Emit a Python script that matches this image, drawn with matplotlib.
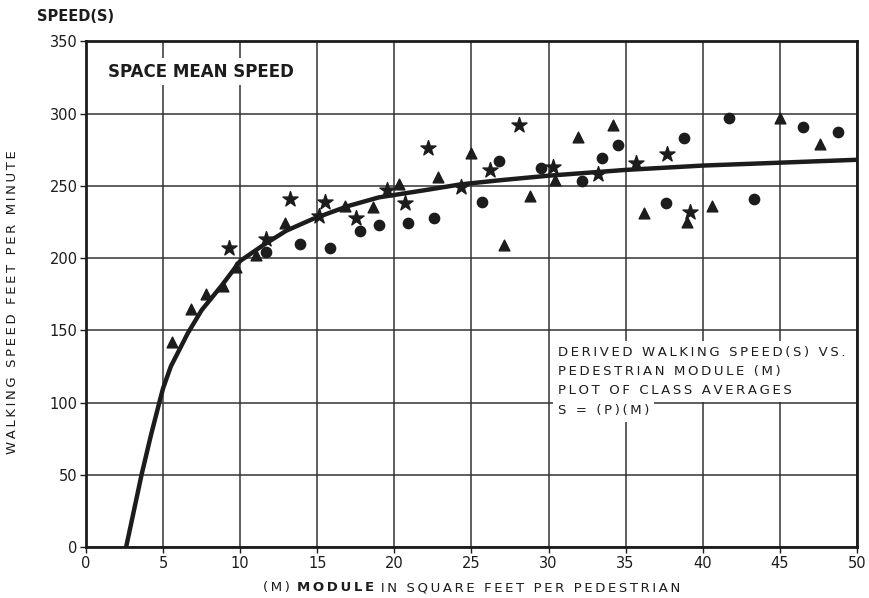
import matplotlib.pyplot as plt
from matplotlib.offsetbox import TextArea, HPacker, AnchoredOffsetbox

# class averages, module M (sq ft / ped) vs walking speed S (ft/min)
star_m = [9.3, 11.7, 13.2, 15.1, 15.5, 17.5, 19.5, 20.7, 22.2, 24.3, 26.2, 28.1,
          30.3, 33.2, 35.7, 37.7, 39.2]
star_s = [207, 213, 241, 229, 239, 228, 247, 238, 276, 249, 261, 292,
          263, 258, 266, 272, 232]

tri_m = [5.6, 6.8, 7.8, 8.9, 9.7, 11.0, 12.9, 16.8, 18.6, 20.3, 22.8, 25.0,
         27.1, 28.8, 30.4, 31.9, 34.2, 36.2, 39.0, 40.6, 45.0, 47.6]
tri_s = [142, 165, 175, 181, 194, 202, 224, 236, 235, 251, 256, 273,
         209, 243, 254, 284, 292, 231, 225, 236, 297, 279]

circ_m = [11.7, 13.9, 15.8, 17.8, 19.0, 20.9, 22.6, 25.7, 26.8, 29.5, 32.2,
          33.5, 34.5, 37.6, 38.8, 41.7, 43.3, 46.5, 48.8]
circ_s = [204, 210, 207, 219, 223, 224, 228, 239, 267, 262, 253,
          269, 278, 238, 283, 297, 241, 291, 287]

# hand-fitted curve through the averages
curve_m = [2.6, 3.6, 4.2, 4.8, 5.0, 5.5, 6.6, 7.5, 8.8, 10, 11.5, 13, 14.7,
           17, 19, 22, 24.3, 27, 30, 35, 40, 45, 50]
curve_s = [0, 50, 77, 102, 110, 125, 148, 164, 181, 198, 209, 219, 227,
           236, 242, 247, 251, 254, 257, 261, 264, 266, 268]

x_ticks = [0, 5, 10, 15, 20, 25, 30, 35, 40, 45, 50]
y_ticks = [0, 50, 100, 150, 200, 250, 300, 350]

note_lines = ['DERIVED WALKING SPEED(S) VS.', 'PEDESTRIAN MODULE (M)',
              'PLOT OF CLASS AVERAGES', 'S = (P)(M)']

ink = '#1c1c1c'
plt.rcParams['font.family'] = ['DejaVu Sans']


def spaced(s, gap='\u2009'):
    # widen the lettering like the old stencil type
    return gap.join(s)


fig = plt.figure(figsize=(8.69, 5.98), dpi=100)
ax = fig.add_axes([0.099, 0.085, 0.887, 0.846])

ax.plot(curve_m, curve_s, color=ink, lw=3.2, solid_capstyle='butt', zorder=3)
ax.scatter(star_m, star_s, marker='*', s=130, color=ink, zorder=4)
ax.scatter(tri_m, tri_s, marker='^', s=60, color=ink, zorder=4)
ax.scatter(circ_m, circ_s, marker='o', s=55, color=ink, zorder=4)

ax.set_xlim(0, 50)
ax.set_ylim(0, 350)
ax.set_xticks(x_ticks)
ax.set_yticks(y_ticks)
ax.grid(True, color='#333333', lw=1.1)
ax.set_axisbelow(True)
for sp in ax.spines.values():
    sp.set_linewidth(2)
    sp.set_color(ink)
ax.tick_params(direction='out', length=4, width=1, colors=ink, labelsize=10.5, pad=2)

fig.text(0.014, 0.495, spaced('WALKING SPEED FEET PER MINUTE'), rotation=90,
         fontsize=9.5, color=ink, ha='center', va='center')

# x label with the bold word in the middle
parts = [TextArea(spaced('(M) '), textprops=dict(fontsize=9.5, color=ink)),
         TextArea(spaced('MODULE'), textprops=dict(fontsize=9.5, color=ink, fontweight='bold')),
         TextArea(spaced(' IN SQUARE FEET PER PEDESTRIAN'), textprops=dict(fontsize=9.5, color=ink))]
xlab = AnchoredOffsetbox(loc='center', child=HPacker(children=parts, pad=0, sep=0),
                         bbox_to_anchor=(0.543, 0.017), bbox_transform=fig.transFigure,
                         frameon=False, pad=0, borderpad=0)
fig.add_artist(xlab)

fig.text(0.043, 0.972, 'SPEED(S)', fontsize=10.5, color=ink, fontweight='bold', va='center')

ax.text(1.4, 329, 'SPACE MEAN SPEED', fontsize=12, color=ink,
        fontweight='bold', va='center',
        bbox=dict(facecolor='white', edgecolor='none', pad=3), zorder=2)

# each note line gets its own white patch over the grid
for i, line in enumerate(note_lines):
    ax.text(30.6, 135 - 13.4 * i, spaced(line), fontsize=9.5, color=ink, va='center',
            bbox=dict(facecolor='white', edgecolor='none', pad=3.5), zorder=2)

fig.savefig('out.png', dpi=100, facecolor='white')
